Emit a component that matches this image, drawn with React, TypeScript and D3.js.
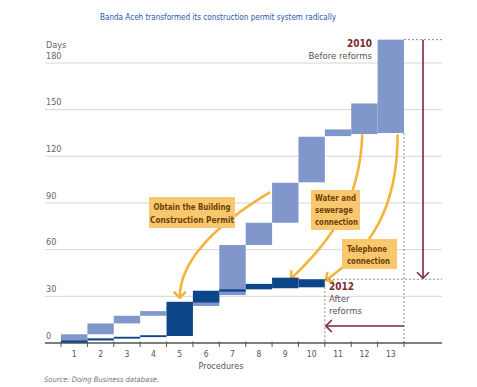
import React from "react";
import * as d3 from "d3";

const procedures = ["1", "2", "3", "4", "5", "6", "7", "8", "9", "10", "11", "12", "13"];
// 2010 (before reforms): start and end day of each procedure
const start2010 = [0, 5.6, 12.6, 17.5, 20.5, 23.8, 30.8, 63, 77.3, 103.3, 133, 134.3, 135];
const end2010 = [5.6, 12.6, 17.5, 20.5, 23.8, 30.8, 63, 77.3, 103, 132.6, 137.3, 154, 195];
// 2012 (after reforms), 10 procedures
const start2012 = [0, 1.6, 2.8, 3.8, 4.5, 26, 33, 34.5, 35.2, 35.8];
const end2012 = [1.6, 3, 4, 5, 26.5, 33.6, 34.5, 38, 42, 41];
const yTicks = [0, 30, 60, 90, 120, 150, 180];

const title = "Banda Aceh transformed its construction permit system radically";
const permitLines = ["Obtain the Building", "Construction Permit"];
const permitWidths = [77, 84];
const waterLines = ["Water and", "sewerage", "connection"];
const waterWidths = [41, 38, 43];
const phoneLines = ["Telephone", "connection"];
const phoneWidths = [40, 43];

const LIGHT = "#8197cb";
const DARK = "#0c4689";
const RED = "#7a2a32";
const GOLD = "#f2b43a";
const BOX = "#f8c76e";
const BOXTEXT = "#6e3f08";
const FONT = "'Liberation Sans Narrow', 'DejaVu Sans Condensed', sans-serif";

export default function App() {
	const x = d3.scaleBand().domain(procedures).range([61, 404]).padding(0);
	const y = d3.scaleLinear().domain([0, 180]).range([343, 63]);
	const bw = x.bandwidth();

	const total2010 = d3.max(end2010) as number;
	const total2012 = end2012[end2012.length - 1];
	const end13 = (x("13") as number) + bw;
	const end10 = (x("10") as number) + bw;
	const right = 442;

	const permitPath = `M${(x("9") as number) - 2},${y(97)} Q${(x("5") as number) + bw / 2},${y(62)} ${(x("5") as number) + bw / 2},${y(end2012[4]) - 4}`;
	const waterPath = `M${(x("12") as number) + 11},${y(134)} C${(x("12") as number) + 9},${y(92)} ${(x("11") as number) + 7},${y(66)} ${(x("9") as number) + 19},${y(end2012[8]) + 1}`;
	const phonePath = `M${(x("13") as number) + 20},${y(134)} C${(x("13") as number) + 20},${y(86)} ${(x("12") as number) + 19},${y(60)} ${end10 + 1},${y(total2012) + 1}`;

	return (
		<svg width={477} height={387} style={{ position: "absolute", left: 0, top: 0, background: "#fff" }} fontFamily={FONT}>
			<defs>
				<marker id="goldHead" markerUnits="userSpaceOnUse" markerWidth={14} markerHeight={14} refX={7} refY={7} orient="auto" viewBox="0 0 14 14">
					<path d="M1,1 L7,7 L1,13" fill="none" stroke={GOLD} strokeWidth={2.6} />
				</marker>
				<marker id="redHead" markerUnits="userSpaceOnUse" markerWidth={14} markerHeight={14} refX={7} refY={7} orient="auto" viewBox="0 0 14 14">
					<path d="M1,1 L7,7 L1,13" fill="none" stroke={RED} strokeWidth={1.6} />
				</marker>
			</defs>

			<text x={100} y={20} fontSize={9.5} fill="#2859a8" textLength={236} lengthAdjust="spacingAndGlyphs">
				{title}
			</text>

			{/* gridlines and y labels */}
			{yTicks.map((t) => (
				<g key={t}>
					{t > 0 && <line x1={45} x2={right} y1={y(t)} y2={y(t)} stroke="#d6d6d6" strokeWidth={1} />}
					<text x={46} y={y(t) - 4.5} fontSize={9} fill="#666">
						{t}
					</text>
				</g>
			))}
			<text x={46} y={48} fontSize={9} fill="#666">
				Days
			</text>

			{/* curved callout arrows (behind bars) */}
			<path d={permitPath} fill="none" stroke={GOLD} strokeWidth={2.6} markerEnd="url(#goldHead)" />
			<path d={waterPath} fill="none" stroke={GOLD} strokeWidth={2.6} markerEnd="url(#goldHead)" />
			<path d={phonePath} fill="none" stroke={GOLD} strokeWidth={2.6} markerEnd="url(#goldHead)" />

			{/* 2010 bars */}
			{procedures.map((p, i) => (
				<rect key={"a" + p} x={x(p)} width={bw} y={y(end2010[i])} height={y(start2010[i]) - y(end2010[i])} fill={LIGHT} />
			))}
			{/* 2012 bars */}
			{start2012.map((s, i) => (
				<rect key={"b" + i} x={x(procedures[i])} width={bw} y={y(end2012[i])} height={y(s) - y(end2012[i])} fill={DARK} />
			))}

			{/* dashed guides */}
			<g stroke="#8a8a8a" strokeWidth={1} strokeDasharray="2,2" fill="none">
				<line x1={end13} x2={right} y1={y(total2010)} y2={y(total2010)} />
				<line x1={end13} x2={end13} y1={y(start2010[12])} y2={y(0)} />
				<line x1={end10} x2={end10} y1={y(total2012)} y2={y(0)} />
				<line x1={end10} x2={right} y1={y(total2012)} y2={y(total2012)} />
			</g>

			{/* reduction arrows */}
			<line x1={423} x2={423} y1={y(total2010)} y2={y(total2012) - 1} stroke={RED} strokeWidth={1.6} markerEnd="url(#redHead)" />
			<line x1={end13} x2={end10 + 1} y1={326} y2={326} stroke={RED} strokeWidth={1.6} markerEnd="url(#redHead)" />

			{/* x axis */}
			<line x1={45} x2={right} y1={y(0)} y2={y(0)} stroke="#555" strokeWidth={1.3} />
			{[...procedures.map((p) => x(p) as number), end13].map((v, i) => (
				<line key={"t" + i} x1={v} x2={v} y1={y(0) - 1.5} y2={y(0) + 4} stroke="#555" strokeWidth={1} />
			))}
			{procedures.map((p) => (
				<text key={"l" + p} x={(x(p) as number) + bw / 2} y={357} fontSize={8.5} fill="#555" textAnchor="middle">
					{p}
				</text>
			))}
			<text x={221} y={369} fontSize={9} fill="#555" textAnchor="middle">
				Procedures
			</text>
			<text x={44} y={382} fontSize={7.5} fill="#777" fontStyle="italic">
				Source: Doing Business database.
			</text>

			{/* year labels */}
			<text x={372} y={47} fontSize={10} fontWeight="bold" fill={RED} textAnchor="end">
				2010
			</text>
			<text x={372} y={58.5} fontSize={9.5} fill="#555" textAnchor="end">
				Before reforms
			</text>
			<text x={329} y={290} fontSize={10} fontWeight="bold" fill={RED}>
				2012
			</text>
			<text x={329} y={302} fontSize={9.5} fill="#555">
				After
			</text>
			<text x={329} y={314} fontSize={9.5} fill="#555">
				reforms
			</text>

			{/* callout boxes */}
			<rect x={149} y={197} width={86} height={31} fill={BOX} />
			{permitLines.map((t, i) => (
				<text key={t} x={192 - permitWidths[i] / 2} y={210 + i * 12.5} fontSize={9.5} fontWeight="bold" fill={BOXTEXT} textLength={permitWidths[i]} lengthAdjust="spacingAndGlyphs">
					{t}
				</text>
			))}
			<rect x={311} y={190} width={49} height={40} fill={BOX} />
			{waterLines.map((t, i) => (
				<text key={t} x={315} y={201 + i * 12.2} fontSize={9.5} fontWeight="bold" fill={BOXTEXT} textLength={waterWidths[i]} lengthAdjust="spacingAndGlyphs">
					{t}
				</text>
			))}
			<rect x={342} y={239} width={55} height={30} fill={BOX} />
			{phoneLines.map((t, i) => (
				<text key={t} x={347} y={252 + i * 12} fontSize={9.5} fontWeight="bold" fill={BOXTEXT} textLength={phoneWidths[i]} lengthAdjust="spacingAndGlyphs">
					{t}
				</text>
			))}
		</svg>
	);
}
